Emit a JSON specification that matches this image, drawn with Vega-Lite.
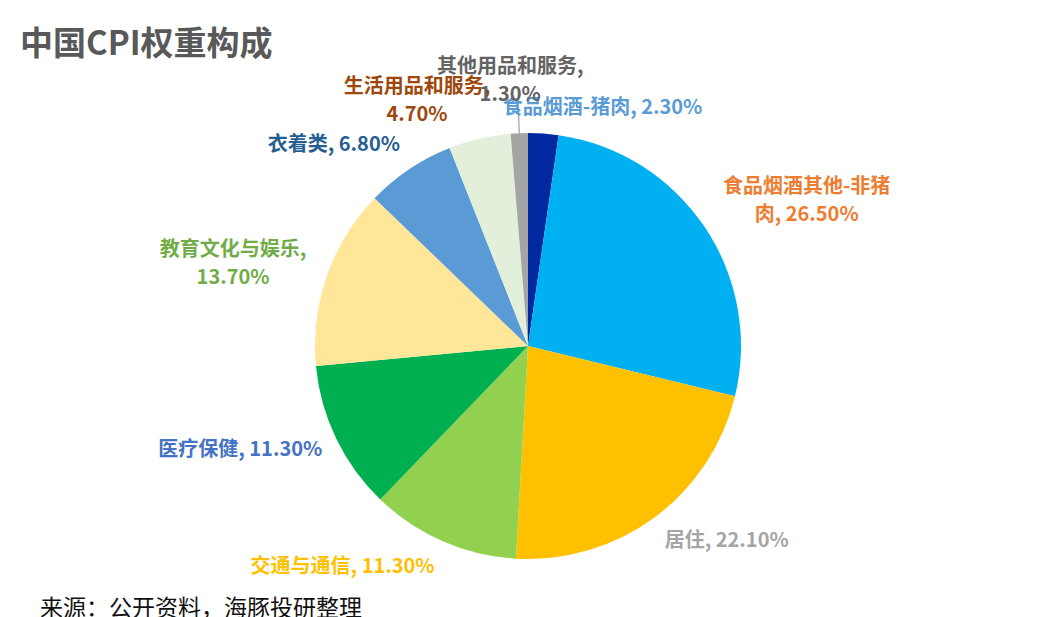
{
  "$schema": "https://vega.github.io/schema/vega-lite/v6.json",
  "padding": {"left": 0, "right": 0, "top": 29, "bottom": 0},
  "background": "white",
  "title": {"text": "中国CPI权重构成", "anchor": "start", "dx": 20, "offset": -5, "fontSize": 33, "font": "Noto Sans CJK SC", "fontWeight": "bold", "color": "#595959"},
  "config": {"view": {"stroke": null}, "font": "Noto Sans CJK SC", "concat": {"spacing": 0}},
  "data": {"values": [
    {"order": 1, "cat": "食品烟酒-猪肉", "value": 2.3, "label": "食品烟酒-猪肉, 2.30%"},
    {"order": 2, "cat": "食品烟酒其他-非猪肉", "value": 26.5, "label": "食品烟酒其他-非猪\n肉, 26.50%"},
    {"order": 3, "cat": "居住", "value": 22.1, "label": "居住, 22.10%"},
    {"order": 4, "cat": "交通与通信", "value": 11.3, "label": "交通与通信, 11.30%"},
    {"order": 5, "cat": "医疗保健", "value": 11.3, "label": "医疗保健, 11.30%"},
    {"order": 6, "cat": "教育文化与娱乐", "value": 13.7, "label": "教育文化与娱乐,\n13.70%"},
    {"order": 7, "cat": "衣着类", "value": 6.8, "label": "衣着类, 6.80%"},
    {"order": 8, "cat": "生活用品和服务", "value": 4.7, "label": "生活用品和服务,\n4.70%"},
    {"order": 9, "cat": "其他用品和服务", "value": 1.3, "label": "其他用品和服务,\n1.30%"}
  ]},
  "vconcat": [
    {
      "width": 1056,
      "height": 496,
      "title": {"text": "来源：公开资料，海豚投研整理", "orient": "bottom", "anchor": "start", "dx": 40, "offset": 4, "fontSize": 23, "fontWeight": "normal", "font": "Noto Sans CJK SC", "color": "#111111"},
      "transform": [
        {"stack": "value", "groupby": [], "sort": [{"field": "order", "order": "ascending"}], "as": ["v0", "v1"]},
        {"calculate": "(datum.v0 + datum.v1) / 2", "as": "mid"}
      ],
      "layer": [
        {
          "mark": {"type": "arc", "radius": 213},
          "encoding": {
            "theta": {"field": "v0", "type": "quantitative", "scale": {"domain": [0, 100]}},
            "theta2": {"field": "v1"},
            "color": {"field": "cat", "type": "nominal", "legend": null, "scale": {
              "domain": ["食品烟酒-猪肉", "食品烟酒其他-非猪肉", "居住", "交通与通信", "医疗保健", "教育文化与娱乐", "衣着类", "生活用品和服务", "其他用品和服务"],
              "range": ["#0029A0", "#00B0F0", "#FFC000", "#92D050", "#00B050", "#FFE699", "#5B9BD5", "#E2EFDA", "#A5A5A5"]}}
          }
        },
        {
          "transform": [{"filter": "datum.cat === '其他用品和服务'"}],
          "mark": {"type": "arc", "radius": 238, "innerRadius": 213, "stroke": "#A5A5A5", "strokeWidth": 1.3, "fill": "#A5A5A5"},
          "encoding": {
            "theta": {"field": "mid", "type": "quantitative", "scale": {"domain": [0, 100]}},
            "theta2": {"field": "mid"}
          }
        },
        {
          "transform": [{"filter": "datum.cat === '食品烟酒-猪肉'"}],
          "mark": {"type": "text", "radius": 243, "dx": 57, "dy": 4, "fontSize": 20, "fontWeight": "bold", "color": "#5B9BD5", "lineBreak": "\n", "lineHeight": 28},
          "encoding": {"theta": {"field": "mid", "type": "quantitative", "scale": {"domain": [0, 100]}}, "text": {"field": "label"}}
        },
        {
          "transform": [{"filter": "datum.cat === '食品烟酒其他-非猪肉'"}],
          "mark": {"type": "text", "radius": 300, "dx": 30, "dy": 9, "fontSize": 20, "fontWeight": "bold", "color": "#ED7D31", "lineBreak": "\n", "lineHeight": 28},
          "encoding": {"theta": {"field": "mid", "type": "quantitative", "scale": {"domain": [0, 100]}}, "text": {"field": "label"}}
        },
        {
          "transform": [{"filter": "datum.cat === '居住'"}],
          "mark": {"type": "text", "radius": 275, "dx": 35, "dy": -26, "fontSize": 20, "fontWeight": "bold", "color": "#A5A5A5", "lineBreak": "\n", "lineHeight": 28},
          "encoding": {"theta": {"field": "mid", "type": "quantitative", "scale": {"domain": [0, 100]}}, "text": {"field": "label"}}
        },
        {
          "transform": [{"filter": "datum.cat === '交通与通信'"}],
          "mark": {"type": "text", "radius": 276, "dx": -75, "dy": -32, "fontSize": 20, "fontWeight": "bold", "color": "#FFC000", "lineBreak": "\n", "lineHeight": 28},
          "encoding": {"theta": {"field": "mid", "type": "quantitative", "scale": {"domain": [0, 100]}}, "text": {"field": "label"}}
        },
        {
          "transform": [{"filter": "datum.cat === '医疗保健'"}],
          "mark": {"type": "text", "radius": 305, "dx": -13, "dy": -28, "fontSize": 20, "fontWeight": "bold", "color": "#4472C4", "lineBreak": "\n", "lineHeight": 28},
          "encoding": {"theta": {"field": "mid", "type": "quantitative", "scale": {"domain": [0, 100]}}, "text": {"field": "label"}}
        },
        {
          "transform": [{"filter": "datum.cat === '教育文化与娱乐'"}],
          "mark": {"type": "text", "radius": 305, "dx": -7, "dy": 5, "fontSize": 20, "fontWeight": "bold", "color": "#70AD47", "lineBreak": "\n", "lineHeight": 28},
          "encoding": {"theta": {"field": "mid", "type": "quantitative", "scale": {"domain": [0, 100]}}, "text": {"field": "label"}}
        },
        {
          "transform": [{"filter": "datum.cat === '衣着类'"}],
          "mark": {"type": "text", "radius": 275, "dx": -41, "dy": 27, "fontSize": 20, "fontWeight": "bold", "color": "#255E91", "lineBreak": "\n", "lineHeight": 28},
          "encoding": {"theta": {"field": "mid", "type": "quantitative", "scale": {"domain": [0, 100]}}, "text": {"field": "label"}}
        },
        {
          "transform": [{"filter": "datum.cat === '生活用品和服务'"}],
          "mark": {"type": "text", "radius": 264, "dx": -51, "dy": -2, "fontSize": 20, "fontWeight": "bold", "color": "#9E480E", "lineBreak": "\n", "lineHeight": 28},
          "encoding": {"theta": {"field": "mid", "type": "quantitative", "scale": {"domain": [0, 100]}}, "text": {"field": "label"}}
        },
        {
          "transform": [{"filter": "datum.cat === '其他用品和服务'"}],
          "mark": {"type": "text", "radius": 265, "dx": -7, "dy": -14, "fontSize": 20, "fontWeight": "bold", "color": "#636363", "lineBreak": "\n", "lineHeight": 28},
          "encoding": {"theta": {"field": "mid", "type": "quantitative", "scale": {"domain": [0, 100]}}, "text": {"field": "label"}}
        }
      ]
    }
  ]
}
